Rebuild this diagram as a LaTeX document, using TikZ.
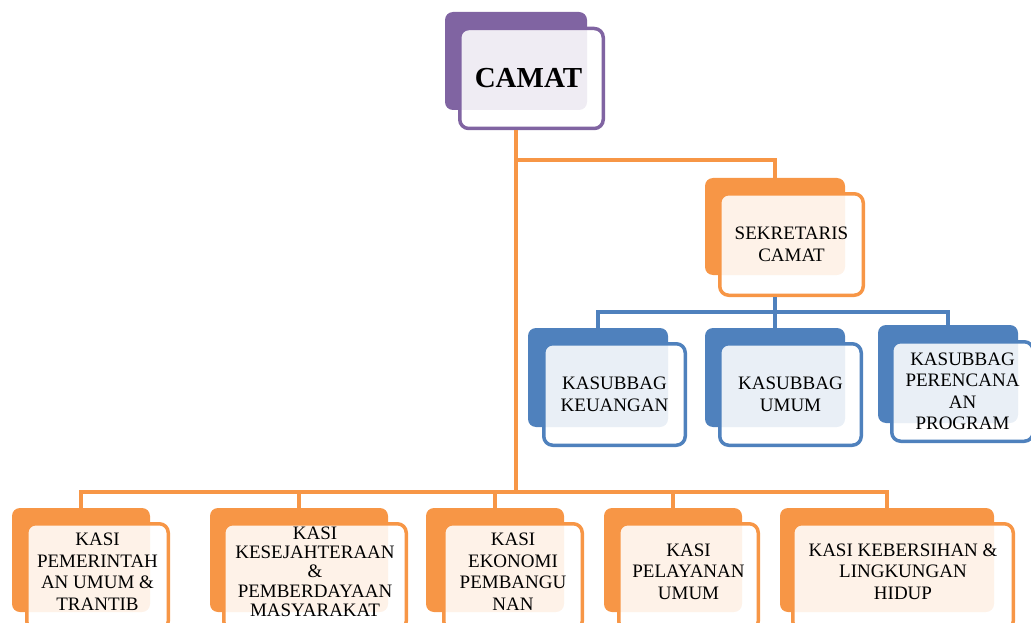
\documentclass[tikz,border=0pt]{standalone}
\usepackage{fontspec}
\setmainfont{Liberation Serif}
\usepackage{tikz}
\definecolor{ungu}{HTML}{8064A2}
\definecolor{oranye}{HTML}{F79646}
\definecolor{biru}{HTML}{4F81BD}

\begin{document}
\begin{tikzpicture}[x=1pt,y=-1pt]
\tikzset{back/.style = {rounded corners=8pt, inner sep=0pt, minimum height=98pt},
         front/.style = {draw, line width=3.5pt, rounded corners=9pt, fill=white, fill opacity=0.88,
                         text opacity=1, inner sep=0pt, align=center, minimum height=100pt,
                         font=\fontsize{19}{21.5}\selectfont},
         kasi/.style = {front, draw=oranye, minimum height=106.5pt, text depth=11pt},
         oline/.style = {draw=oranye, line width=3.5pt},
         bline/.style = {draw=biru, line width=3.5pt}}
\useasboundingbox (0,0) rectangle (1031,623);
            % vertices
	\node[back, fill=ungu, minimum width=142pt] (camatb) at (516,61) {};
	\node[front, draw=ungu, minimum width=143.5pt, font=\fontsize{29}{31}\selectfont\bfseries] (camat) at (531.5,78.5) {CAMAT\hspace*{6pt}};
	\node[back, fill=oranye, minimum width=140pt, minimum height=97pt] (sekb) at (775,226.5) {};
	\node[front, draw=oranye, minimum width=143.5pt, minimum height=101.5pt] (sek) at (791.5,244.5) {SEKRETARIS\\CAMAT};
	\node[back, fill=biru, minimum width=140pt, minimum height=99pt] (keub) at (598,377.5) {};
	\node[front, draw=biru, minimum width=141.5pt, minimum height=101.5pt] (keu) at (614.5,394.5) {KASUBBAG\\KEUANGAN};
	\node[back, fill=biru, minimum width=140pt, minimum height=99pt] (umumb) at (775,377.5) {};
	\node[front, draw=biru, minimum width=141.5pt, minimum height=101.5pt] (umum) at (790.5,394.5) {KASUBBAG\\UMUM};
	\node[back, fill=biru, minimum width=140pt] (prob) at (948,374) {};
	\node[front, draw=biru, minimum width=141.5pt, minimum height=99.5pt] (pro) at (962.5,391.5) {KASUBBAG\\PERENCANA\\AN\\PROGRAM};
	\node[back, fill=oranye, minimum width=138pt, minimum height=104pt] (pemb) at (81,560) {};
	\node[kasi, minimum width=141.5pt] (pem) at (97.5,577) {KASI\\PEMERINTAH\\AN UMUM \&\\TRANTIB};
	\node[back, fill=oranye, minimum width=178pt, minimum height=104pt] (kesb) at (299,560) {};
	\node[kasi, minimum width=182.5pt, font=\fontsize{19}{19.3}\selectfont] (kes) at (315,577) {KASI\\KESEJAHTERAAN\\\&\\PEMBERDAYAAN\\MASYARAKAT};
	\node[back, fill=oranye, minimum width=138pt, minimum height=104pt] (ekob) at (495,560) {};
	\node[kasi, minimum width=138.5pt] (eko) at (513,577) {KASI\\EKONOMI\\PEMBANGU\\NAN};
	\node[back, fill=oranye, minimum width=138pt, minimum height=104pt] (pelb) at (673,560) {};
	\node[kasi, minimum width=139.5pt] (pel) at (688.5,577) {KASI\\PELAYANAN\\UMUM};
	\node[back, fill=oranye, minimum width=214pt, minimum height=104pt] (kebb) at (887,560) {};
	\node[kasi, minimum width=220.5pt] (keb) at (903,577) {KASI KEBERSIHAN \&\\LINGKUNGAN\\HIDUP};
	\coordinate (cabang) at (0,160);
	\coordinate (busatas) at (0,312);
	\coordinate (busbawah) at (0,492);
            %edges
	\draw[oline] (camatb |- camat.south) -- (camatb |- busbawah);
	\draw[oline] (camatb |- cabang) -| (sekb.north);
	\draw[oline] (pemb.north) -- (pemb |- busbawah) -- (kebb |- busbawah) -- (kebb.north);
	\foreach \b in {kesb, ekob, pelb}
		\draw[oline] (\b.north) -- (\b |- busbawah);
	\draw[bline] (sekb |- sek.south) -- (sekb |- busatas);
	\draw[bline] (keub.north) -- (keub |- busatas) -- (prob |- busatas) -- (prob.north);
	\draw[bline] (umumb.north) -- (umumb |- busatas);
\end{tikzpicture}
\end{document}
